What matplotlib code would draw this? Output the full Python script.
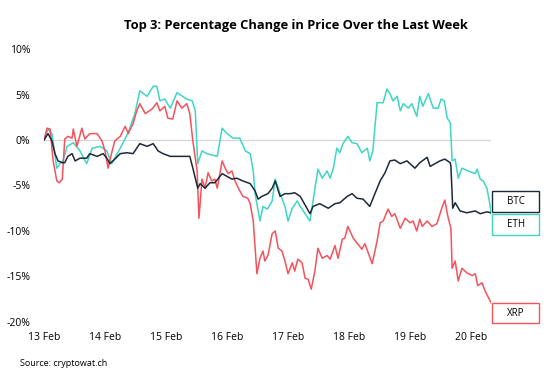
import matplotlib
matplotlib.use("Agg")
import matplotlib.pyplot as plt
from matplotlib.patches import Rectangle

# days since 13 Feb 00:00, percentage change
btc_days = [0.0, 0.066, 0.13, 0.18, 0.23, 0.30, 0.34, 0.39, 0.46, 0.51, 0.59, 0.70, 0.75, 0.87,
            0.97, 1.03, 1.08, 1.13, 1.25, 1.36, 1.46, 1.57, 1.69, 1.79, 1.87, 1.95, 2.07, 2.23,
            2.39, 2.44, 2.52, 2.56, 2.64, 2.72, 2.80, 2.92, 3.00, 3.08, 3.16, 3.26, 3.38, 3.46,
            3.51, 3.57, 3.67, 3.74, 3.79, 3.87, 3.95, 4.03, 4.11, 4.20, 4.31, 4.36, 4.41, 4.52,
            4.66, 4.77, 4.85, 4.97, 5.05, 5.13, 5.23, 5.34, 5.43, 5.51, 5.59, 5.67, 5.75, 5.84,
            5.95, 6.08, 6.16, 6.28, 6.33, 6.49, 6.57, 6.66, 6.67, 6.70, 6.74, 6.82, 6.93, 7.07,
            7.15, 7.26, 7.33]
btc_pct = [0.0, 0.7, -0.1, -1.5, -2.3, -2.5, -2.5, -1.8, -1.5, -2.3, -2.0, -2.0, -1.5, -1.8,
           -1.5, -2.0, -2.6, -2.3, -1.5, -1.4, -1.5, -0.4, -0.7, -0.4, -1.2, -1.5, -1.8, -1.8,
           -1.8, -3.1, -5.3, -4.8, -5.3, -4.7, -4.7, -3.7, -4.0, -4.3, -4.2, -4.5, -4.8, -5.6,
           -6.5, -6.2, -5.9, -5.3, -4.5, -6.2, -5.9, -5.9, -5.8, -6.2, -7.5, -8.1, -7.3, -7.0,
           -7.5, -7.0, -6.9, -6.2, -5.9, -6.4, -6.5, -7.3, -5.8, -4.5, -3.6, -2.3, -2.2, -2.6,
           -2.3, -3.1, -2.5, -1.9, -2.9, -2.3, -2.1, -2.5, -2.9, -7.5, -6.9, -7.8, -8.0, -7.8,
           -8.1, -7.9, -8.0]

eth_days = [0.0, 0.066, 0.13, 0.21, 0.26, 0.31, 0.38, 0.48, 0.59, 0.70, 0.79, 0.92, 1.03, 1.11,
            1.25, 1.38, 1.49, 1.57, 1.69, 1.79, 1.85, 1.90, 1.98, 2.07, 2.18, 2.34, 2.43, 2.48,
            2.52, 2.59, 2.67, 2.84, 2.92, 3.00, 3.10, 3.21, 3.30, 3.38, 3.43, 3.46, 3.54, 3.59,
            3.66, 3.74, 3.79, 3.87, 3.95, 4.00, 4.07, 4.15, 4.20, 4.28, 4.36, 4.41, 4.49, 4.56,
            4.64, 4.69, 4.74, 4.80, 4.85, 4.90, 4.98, 5.05, 5.13, 5.21, 5.30, 5.34, 5.39, 5.46,
            5.56, 5.62, 5.67, 5.72, 5.79, 5.84, 5.89, 5.97, 6.03, 6.11, 6.16, 6.21, 6.30, 6.38,
            6.46, 6.51, 6.56, 6.61, 6.66, 6.69, 6.74, 6.79, 6.85, 6.95, 7.07, 7.10, 7.15, 7.20,
            7.26, 7.30, 7.33]
eth_pct = [0.0, 1.2, 0.7, -3.1, -2.6, -2.3, -0.7, -0.3, -1.2, -2.6, -0.9, -0.7, -1.2, -2.6,
           -0.9, 0.8, 2.9, 5.4, 4.8, 5.9, 5.9, 4.3, 4.5, 3.5, 5.2, 4.5, 4.3, 3.2,
           -2.6, -1.2, -1.5, -1.8, 1.3, 0.7, 0.2, 0.2, -1.2, -1.5, -3.4, -5.9, -8.9, -7.3,
           -7.6, -6.7, -4.3, -5.9, -7.3, -8.9, -7.5, -6.7, -7.3, -8.1, -8.9, -6.7, -3.2, -4.2,
           -3.4, -4.2, -3.2, -0.9, -1.4, -0.4, 0.4, -0.3, -0.4, -1.4, -0.9, -2.3, -1.2, 4.1,
           4.1, 5.6, 5.1, 4.3, 4.8, 3.2, 4.0, 3.5, 4.0, 2.6, 4.8, 3.7, 5.1, 3.5,
           3.5, 4.5, 4.3, 2.4, 1.9, -2.3, -2.1, -4.2, -3.1, -3.4, -3.7, -3.2, -4.3, -4.5,
           -5.3, -6.7, -8.1]

xrp_days = [0.0, 0.05, 0.10, 0.15, 0.21, 0.25, 0.30, 0.34, 0.39, 0.46, 0.48, 0.54, 0.62, 0.67,
            0.75, 0.87, 0.95, 1.00, 1.05, 1.11, 1.16, 1.25, 1.33, 1.38, 1.46, 1.52, 1.57, 1.66,
            1.77, 1.85, 1.90, 1.98, 2.03, 2.11, 2.18, 2.26, 2.34, 2.39, 2.44, 2.51, 2.54, 2.59,
            2.64, 2.69, 2.75, 2.80, 2.84, 2.92, 2.97, 3.02, 3.08, 3.13, 3.21, 3.26, 3.34, 3.38,
            3.43, 3.49, 3.54, 3.59, 3.62, 3.67, 3.74, 3.79, 3.84, 3.90, 3.95, 4.00, 4.07, 4.11,
            4.16, 4.23, 4.28, 4.33, 4.38, 4.44, 4.49, 4.56, 4.64, 4.69, 4.77, 4.82, 4.89, 4.93,
            4.98, 5.07, 5.21, 5.26, 5.38, 5.46, 5.51, 5.56, 5.64, 5.70, 5.75, 5.84, 5.92, 6.00,
            6.05, 6.11, 6.16, 6.20, 6.28, 6.36, 6.44, 6.52, 6.57, 6.62, 6.67, 6.69, 6.74, 6.79,
            6.85, 6.93, 7.02, 7.07, 7.11, 7.18, 7.23, 7.33]
xrp_pct = [0.0, 1.3, 1.2, -2.3, -4.5, -4.7, -4.3, 0.1, 0.4, 0.2, 1.2, -0.7, 1.3, 0.1,
           0.7, 0.7, -0.1, -1.2, -3.1, -1.4, -0.1, 0.4, 1.5, 0.7, 1.8, 3.2, 4.0, 2.9,
           3.4, 4.1, 3.2, 3.7, 2.4, 2.3, 4.3, 3.5, 4.0, 2.9, -0.1, -3.4, -8.6, -4.3,
           -5.3, -3.6, -4.5, -4.3, -5.3, -2.3, -3.1, -3.7, -3.4, -4.5, -5.6, -6.2, -6.4, -7.0,
           -8.9, -14.7, -13.0, -12.2, -13.3, -12.7, -10.3, -10.0, -11.9, -12.2, -13.3, -14.7, -13.5, -14.4,
           -13.1, -13.5, -15.2, -15.3, -16.4, -14.4, -11.9, -13.0, -12.7, -13.1, -11.6, -13.0, -10.9, -10.8,
           -9.5, -10.8, -12.0, -11.4, -13.6, -11.1, -9.1, -8.9, -7.6, -8.4, -8.1, -9.7, -8.6, -9.1,
           -8.9, -10.0, -8.7, -9.5, -8.9, -9.5, -9.2, -7.5, -6.6, -8.4, -9.7, -14.1, -13.3, -15.5,
           -14.1, -14.6, -14.9, -14.7, -16.0, -15.7, -16.6, -17.9]

day_labels = ["13 Feb", "14 Feb", "15 Feb", "16 Feb", "17 Feb", "18 Feb", "19 Feb", "20 Feb"]
y_ticks = [10, 5, 0, -5, -10, -15, -20]

C_BTC = "#1d2939"
C_ETH = "#3fd6c6"
C_XRP = "#f5525b"

plt.rcParams["font.family"] = ["Open Sans", "DejaVu Sans"]

fig = plt.figure(figsize=(5.48, 3.77), dpi=100)
ax = fig.add_axes([0.0803, 0.146, 0.816, 0.724])

ax.axhline(0, color="#d6d6d6", lw=0.9, zorder=1)
ax.plot(eth_days, eth_pct, color=C_ETH, lw=1.1, zorder=2)
ax.plot(xrp_days, xrp_pct, color=C_XRP, lw=1.1, zorder=3)
ax.plot(btc_days, btc_pct, color=C_BTC, lw=1.1, zorder=4)

ax.set_xlim(0, 7.33)
ax.set_ylim(-20, 10)
ax.set_xticks(range(len(day_labels)))
ax.set_xticklabels(day_labels)
ax.set_yticks(y_ticks)
ax.set_yticklabels([f"{v}%" for v in y_ticks])
ax.tick_params(length=0, labelsize=7.5, colors="black")
ax.tick_params(axis="x", pad=7)
ax.tick_params(axis="y", pad=10)
for s in ax.spines.values():
    s.set_visible(False)

# end-of-line label boxes
box_w, box_h = 0.77, 2.25
x0 = 7.35
boxes = [("BTC", C_BTC, btc_pct[-1] + 0.1),           # box sits above line end
         ("ETH", C_ETH, eth_pct[-1] - box_h - 0.05),  # pushed below
         ("XRP", C_XRP, xrp_pct[-1] - box_h)]
for name, col, yb in boxes:
    ax.add_patch(Rectangle((x0, yb), box_w, box_h, facecolor="white", edgecolor=col,
                           lw=1.0, clip_on=False, zorder=5))
    ax.text(x0 + box_w / 2, yb + box_h / 2, name, ha="center", va="center",
            fontsize=7, color="black", zorder=6, clip_on=False)

fig.text(0.54, 0.932, "Top 3: Percentage Change in Price Over the Last Week",
         ha="center", va="center", fontsize=9.3, fontweight="bold")
fig.text(0.037, 0.035, "Source: cryptowat.ch", ha="left", va="center", fontsize=6.5)

fig.savefig("out.png", dpi=100)
